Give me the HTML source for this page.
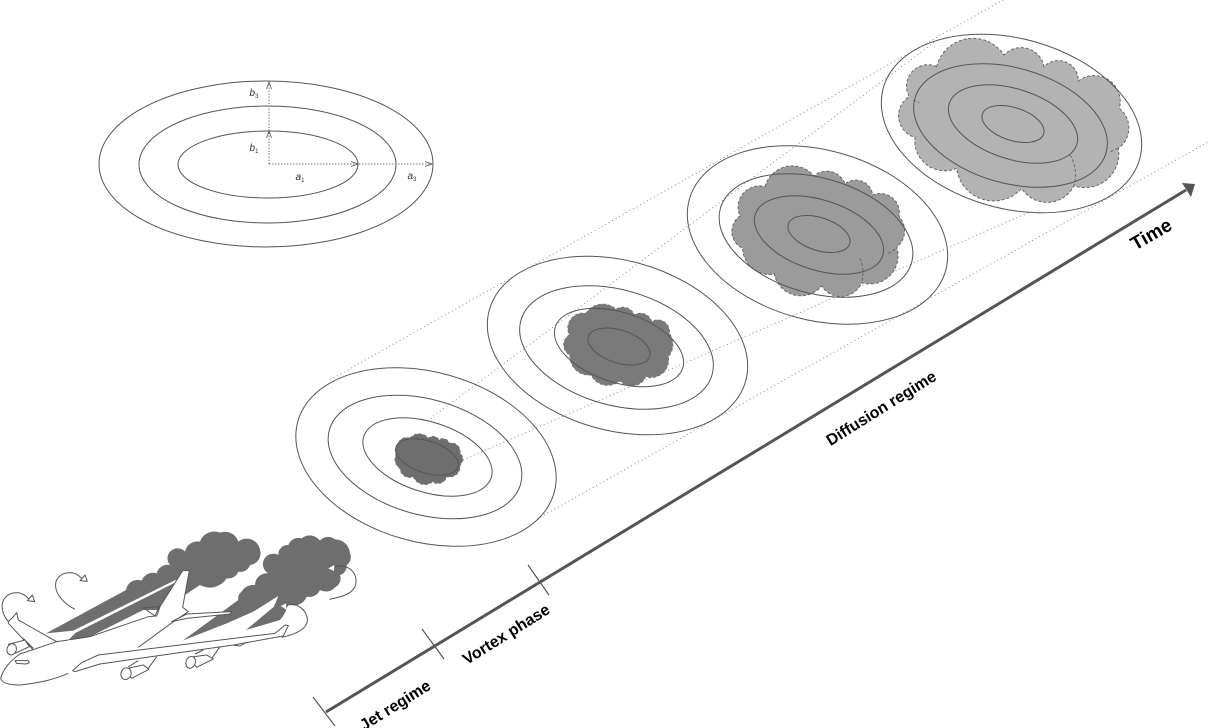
<!DOCTYPE html>
<html><head><meta charset="utf-8"><style>
html,body{margin:0;padding:0;background:#fff}
svg{display:block}
text{font-family:"Liberation Sans",sans-serif}
.e{fill:none;stroke:#555;stroke-width:1}
.d{fill:none;stroke:#888;stroke-width:1;stroke-dasharray:1 3}
.l{font-weight:bold;font-size:16px;fill:#000;text-anchor:middle}
.s{font-size:10px;font-style:italic;fill:#333;text-anchor:middle}
.s tspan{font-size:6px;font-style:normal}
.c{vector-effect:non-scaling-stroke;stroke-width:1}
.p{fill:#fff;stroke:#555;stroke-width:3;stroke-linejoin:round}
.q{fill:none;stroke:#555;stroke-width:3;stroke-linejoin:round}
.w{fill:#fff;stroke:none}
</style></head><body>
<svg width="1208" height="728" viewBox="0 0 1208 728" xmlns="http://www.w3.org/2000/svg">
<rect width="1208" height="728" fill="#fff"/>
<!-- dotted guides -->
<line class="d" x1="330" y1="380" x2="1003" y2="0"/>
<line class="d" x1="427" y1="421" x2="936" y2="41"/>
<line class="d" x1="463" y1="460" x2="1030" y2="212"/>
<line class="d" x1="537" y1="519" x2="1208" y2="142"/>
<!-- clouds -->
<g transform="translate(870,20) scale(.33333)">
<path class="c" fill="#b3b3b3" stroke="#666" stroke-dasharray="3 2" d="M200,140 A112,112 0 0 1 402,105 A70,70 0 0 1 522,140 A60,60 0 0 1 625,183 A78,78 0 0 1 748,265 A75,75 0 0 1 745,385 A101,101 0 0 1 612,497 A90,90 0 0 1 455,505 A112,112 0 0 1 260,445 A90,90 0 0 1 135,352 A67,67 0 0 1 118,230 A64,64 0 0 1 200,140 Z"/>
<path class="c" fill="none" stroke="#666" stroke-dasharray="3 2" d="M600,405 Q625,445 612,497 M722,395 L748,382 M130,240 L148,248"/>
</g>
<g transform="translate(680,150) scale(.33333)">
<path class="c" fill="#9b9b9b" stroke="#666" stroke-dasharray="3 2" d="M255,110 A85,85 0 0 1 402,78 A58,58 0 0 1 495,102 A51,51 0 0 1 578,135 A58,58 0 0 1 657,200 A63,63 0 0 1 650,292 A84,84 0 0 1 545,398 A68,68 0 0 1 425,408 A81,81 0 0 1 283,372 A80,80 0 0 1 188,295 A56,56 0 0 1 180,198 A64,64 0 0 1 255,110 Z"/>
<path class="c" fill="none" stroke="#666" stroke-dasharray="3 2" d="M540,325 Q555,360 545,398 M625,310 L650,295"/>
</g>
<g transform="translate(480,250) scale(.33333)">
<path class="c" fill="#7a7a7a" stroke="#777" stroke-dasharray="3 2" d="M318,190 A59,59 0 0 1 408,178 A37,37 0 0 1 463,195 A35,35 0 0 1 515,215 A35,35 0 0 1 568,250 A57,57 0 0 1 565,320 A53,53 0 0 1 497,380 A46,46 0 0 1 420,392 A56,56 0 0 1 333,375 A57,57 0 0 1 270,315 A34,34 0 0 1 268,255 A46,46 0 0 1 318,190 Z"/>
</g>
<g transform="translate(290,360) scale(.33333)">
<path class="c" fill="#6e6e6e" stroke="#777" stroke-dasharray="3 2" d="M360,235 A35,35 0 0 1 415,235 A20,20 0 0 1 447,240 A20,20 0 0 1 478,250 A26,26 0 0 1 510,280 A23,23 0 0 1 510,315 A32,32 0 0 1 470,350 A27,27 0 0 1 428,365 A37,37 0 0 1 370,350 A29,29 0 0 1 330,325 A31,31 0 0 1 318,285 A35,35 0 0 1 325,250 A26,26 0 0 1 360,235 Z"/>
</g>
<!-- ellipse groups -->
<g>
<ellipse class="e" cx="426" cy="457" rx="133" ry="85" transform="rotate(15.5 426 457)"/>
<ellipse class="e" cx="425" cy="457" rx="99.4" ry="57.6" transform="rotate(16 425 457)"/>
<ellipse class="e" cx="427.5" cy="457" rx="67" ry="35" transform="rotate(18 427.5 457)"/>
<ellipse class="e" cx="427" cy="457" rx="32.5" ry="16" transform="rotate(18 427 457)"/>
</g>
<g>
<ellipse class="e" cx="617.5" cy="345.5" rx="133" ry="85" transform="rotate(15.5 617.5 345.5)"/>
<ellipse class="e" cx="616.5" cy="347.5" rx="99.4" ry="57.6" transform="rotate(16 616.5 347.5)"/>
<ellipse class="e" cx="619" cy="347.5" rx="67" ry="35" transform="rotate(18 619 347.5)"/>
<ellipse class="e" cx="619" cy="346.5" rx="32.2" ry="16.4" transform="rotate(18 619 346.5)"/>
</g>
<g>
<ellipse class="e" cx="817.5" cy="235" rx="133" ry="85" transform="rotate(15.5 817.5 235)"/>
<ellipse class="e" cx="816" cy="235.5" rx="99.4" ry="57.6" transform="rotate(16 816 235.5)"/>
<ellipse class="e" cx="819" cy="235" rx="67" ry="35" transform="rotate(18 819 235)"/>
<ellipse class="e" cx="819" cy="234" rx="32.2" ry="16.4" transform="rotate(18 819 234)"/>
</g>
<g>
<ellipse class="e" cx="1011.5" cy="123.5" rx="133" ry="85" transform="rotate(15.5 1011.5 123.5)"/>
<ellipse class="e" cx="1010.5" cy="125.5" rx="99.4" ry="57.6" transform="rotate(16 1010.5 125.5)"/>
<ellipse class="e" cx="1013" cy="124" rx="67" ry="35" transform="rotate(18 1013 124)"/>
<ellipse class="e" cx="1013" cy="124" rx="32.2" ry="16.4" transform="rotate(18 1013 124)"/>
</g>
<!-- top-left legend -->
<ellipse class="e" cx="266" cy="164" rx="167" ry="83"/>
<ellipse class="e" cx="267.5" cy="164.5" rx="128.5" ry="58.5"/>
<ellipse class="e" cx="268" cy="164.5" rx="90" ry="33.5"/>
<path d="M269,164 V84 M269,164 H432" fill="none" stroke="#777" stroke-width="1" stroke-dasharray="1.5 1.5"/>
<path d="M266.5,89 L269,82 L271.500,89 M266.5,138 L269,131 L271.500,138 M351,161.500 L358,164 L351,166.500 M425,161.500 L432,164 L425,166.500" fill="none" stroke="#555" stroke-width=".8"/>
<text class="s" x="254" y="96">b<tspan dy="2">3</tspan></text>
<text class="s" x="254" y="151">b<tspan dy="2">1</tspan></text>
<text class="s" x="300" y="180">a<tspan dy="2">1</tspan></text>
<text class="s" x="412" y="179">a<tspan dy="2">3</tspan></text>
<!-- timeline -->
<line x1="326" y1="712" x2="1186" y2="190" stroke="#555" stroke-width="3"/>
<path d="M1182,183 L1195,184 L1191,197 Z" fill="#555"/>
<path d="M313,697 L335,726 M422,629 L444,659 M528,565 L549,595" stroke="#555" stroke-width="1.200" fill="none"/>
<text class="l" transform="translate(395,705) rotate(-32)" dy=".35em">Jet regime</text>
<text class="l" transform="translate(506,634) rotate(-32)" dy=".35em">Vortex phase</text>
<text class="l" transform="translate(881,408) rotate(-32)" dy=".35em">Diffusion regime</text>
<text class="l" style="font-size:19px" transform="translate(1151,234) rotate(-30)" dy=".35em">Time</text>
<!-- aircraft -->
<g transform="translate(0,510) scale(.33333)">
<path fill="#6e6e6e" d="M138,370 L378,240 A35,35 0 0 1 425,212 A36,36 0 0 1 470,190 A34,34 0 0 1 510,165 A30,30 0 0 1 555,125 A38,38 0 0 1 600,95 A45,45 0 0 1 660,68 A42,42 0 0 1 715,95 A40,40 0 0 1 780,120 A35,35 0 0 1 750,165 A30,30 0 0 1 715,185 A32,32 0 0 1 680,205 A60,60 0 0 1 600,225 L555,255 L530,208 L220,362 Z"/>
<path fill="#6e6e6e" d="M205,390 L228,368 L525,218 L480,300 L430,300 L270,380 Z"/>
<path fill="#6e6e6e" d="M548,392 L715,270 A25,25 0 0 1 725,245 A40,40 0 0 1 765,225 A35,35 0 0 1 805,190 A30,30 0 0 1 835,135 A28,28 0 0 1 865,105 A32,32 0 0 1 905,85 A38,38 0 0 1 960,92 A32,32 0 0 1 1005,88 A45,45 0 0 1 1050,130 A28,28 0 0 1 1040,165 A28,28 0 0 1 1020,195 A30,30 0 0 1 1005,232 A36,36 0 0 1 960,240 A35,35 0 0 1 920,260 A40,40 0 0 1 865,282 Q858,310 840,330 L738,360 L822,290 L835,258 L760,305 L680,340 Z"/>
<!-- wings / tail -->
<path class="w" d="M25,335 L50,308 L55,330 L170,395 L100,420 Z"/>
<path class="q" d="M100,420 L25,340 L25,335 L42,318 L50,308 L55,330 L170,395"/>
<path class="w" d="M205,390 L270,380 L445,320 L470,318 L480,290 L548,182 L568,182 L548,292 L565,305 L520,335 L415,412 L200,440 Z"/>
<path class="q" d="M205,390 L270,380 L445,320 L470,318 L480,290 L548,182 L568,182 L548,292 L565,305 L520,335 L415,412"/>
<path class="p" d="M515,335 L560,312 L695,305 L690,312 L560,325 Z"/>
<path class="q" d="M430,293 L478,290 L465,318 Z"/>
<!-- engines -->
<path class="p" d="M25,403 L75,390 L88,410 L45,430 Z"/>
<path class="q" d="M70,385 L100,415"/>
<ellipse class="p" cx="35" cy="418" rx="14" ry="17" transform="rotate(20 35 418)"/>
<path class="q" d="M385,470 L415,452 M445,475 L470,440"/>
<path class="p" d="M372,477 L430,465 L447,478 L395,505 Z"/>
<ellipse class="p" cx="378" cy="491" rx="15" ry="18" transform="rotate(20 378 491)"/>
<path class="q" d="M585,432 L610,420 M635,445 L660,410"/>
<path class="p" d="M565,442 L620,435 L640,447 L590,472 Z"/>
<ellipse class="p" cx="572" cy="457" rx="14" ry="18" transform="rotate(20 572 457)"/>
<!-- fuselage -->
<path class="w" d="M2,505 C8,480 30,452 60,432 L170,395 L205,390 L300,400 L300,445 L225,490 L205,490 C170,505 130,518 60,525 C30,525 5,520 2,505 Z"/>
<path class="q" d="M205,490 C170,505 130,518 60,525 C30,525 5,520 2,505 C8,480 30,452 60,432 L170,395 L205,390"/>
<path class="q" d="M45,452 L85,452 L88,458 L78,462 L50,460 Z"/>
<!-- long wing -->
<path class="p" d="M218,482 L245,458 L295,435 L825,370 L855,345 L865,347 L850,378 L700,405 L300,462 L225,485 Z"/>
<path class="q" d="M700,405 L720,408 L740,396"/>
<!-- arrows -->
<path class="q" d="M225,298 C150,260 150,190 210,188 C230,188 240,200 245,205"/>
<path class="p" d="M240,212 L262,214 L255,195 Z"/>
<path class="q" d="M25,335 C-5,300 0,250 50,248 C70,248 85,265 88,268"/>
<path class="p" d="M82,272 L104,275 L97,255 Z"/>
<path class="q" d="M988,268 C1040,258 1070,245 1068,210 C1065,175 1030,160 1000,172"/>
<path d="M985,175 L1003,165 L1002,183 Z" fill="#fff"/>
<path class="q" d="M845,382 C900,370 925,350 922,325 C915,290 880,275 858,288"/>
<path d="M842,288 L858,280 L860,300 Z" fill="#fff"/>
</g>
</svg>
</body></html>
